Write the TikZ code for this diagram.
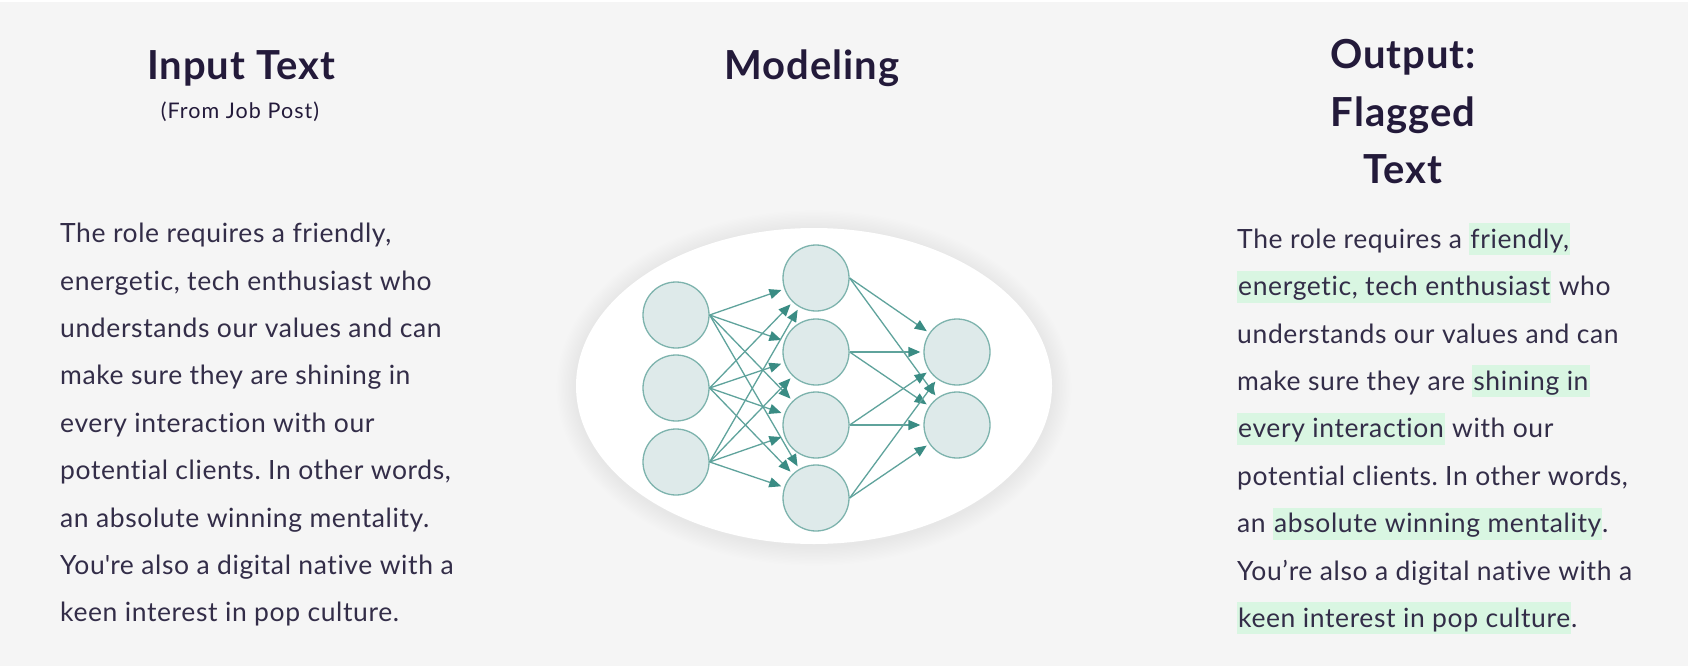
\documentclass[tikz,border=0pt]{standalone}
\usepackage{fontspec}
\setmainfont{Lato}
\newfontfamily\bodyfont[LetterSpace=2.3,Ligatures=NoCommon]{Lato}
\newfontfamily\headfont[LetterSpace=2.5,Ligatures=NoCommon]{Lato}
\newfontfamily\subfont[LetterSpace=5,Ligatures=NoCommon]{Lato}
\usetikzlibrary{arrows.meta}
\definecolor{bg}{HTML}{F5F5F5}
\definecolor{headc}{HTML}{231A3A}
\definecolor{bodyc}{HTML}{332D48}
\definecolor{hlgreen}{HTML}{D9F6E2}
\definecolor{nfill}{HTML}{DEEAEA}
\definecolor{nline}{HTML}{7DB3AD}
\definecolor{arrc}{HTML}{5FA39C}
\definecolor{arrhead}{HTML}{3A8C84}
\newcommand\hlt[1]{{\setlength{\fboxsep}{0pt}\colorbox{hlgreen}{\rule[-7pt]{0pt}{32pt}\hspace{1pt}#1\hspace{1pt}}}}
\tikzset{
  head/.style={font=\headfont\bfseries\fontsize{40}{48}\selectfont, text=headc, inner sep=0pt, anchor=base},
  subhead/.style={font=\subfont\fontsize{21.5}{25}\selectfont, text=headc, inner sep=0pt, anchor=base},
  para/.style={font=\bodyfont\fontsize{26.5}{47.4}\selectfont, text=bodyc, inner sep=0pt, align=left, anchor=north west},
  neuron/.style={circle, draw=nline, fill=nfill, line width=1.3pt, minimum size=66pt, inner sep=0pt},
  link/.style={draw=arrc, line width=1.3pt, -{Triangle[length=12pt,width=10pt,color=arrhead]}, shorten >=3pt},
}
\begin{document}
\frenchspacing
\begin{tikzpicture}[x=1pt,y=-1pt]
\useasboundingbox (0,0) rectangle (1688,666);
\fill[white] (0,0) rectangle (1688,666);
\fill[bg] (0,2) rectangle (1688,666);

% headings
\node[head] (inhead) at (241,80) {Input Text};
\node[subhead] (insub) at (240,118) {(From Job Post)};
\node[head] (modhead) at (812,80) {Modeling};
\node[head] (outh1) at (1403,69) {Output:};
\node[head] (outh2) at (1403,126) {Flagged};
\node[head] (outh3) at (1403,183) {Text};

% left paragraph
\node[para] (leftpara) at (60,223) {%
The role requires a friendly,\\
energetic, tech enthusiast who\\
understands our values and can\\
make sure they are shining in\\
every interaction with our\\
potential clients. In other words,\\
an absolute winning mentality.\\
You\textquotesingle re also a digital native with a\\
keen interest in pop culture.};

% right paragraph
\node[para] (rightpara) at (1237,223) {%
The role requires a \hlt{friendly,}\\
\hlt{energetic, tech enthusiast} who\\
understands our values and can\\
make sure they are \hlt{shining in}\\
\hlt{every interaction} with our\\
potential clients. In other words,\\
an \hlt{absolute winning mentality}.\\
You’re also a digital native with a\\
\hlt{keen interest in pop culture}.};

% ellipse with soft shadow
\foreach \i in {1,...,14}{
  \fill[black, opacity=0.005] (814,388) ellipse ({238+\i*1.4} and {158+\i*1.4});
}
\fill[white] (814,386) ellipse (238 and 158);

% neurons
\node[neuron] (a1) at (676,315) {};
\node[neuron] (a2) at (676,388) {};
\node[neuron] (a3) at (676,462) {};
\node[neuron] (b1) at (816,278) {};
\node[neuron] (b2) at (816,352) {};
\node[neuron] (b3) at (816,425) {};
\node[neuron] (b4) at (816,498) {};
\node[neuron] (c1) at (957,352) {};
\node[neuron] (c2) at (957,425) {};

\foreach \s in {a1,a2,a3}{
  \foreach \t in {b1,b2,b3,b4}{
    \draw[link] (\s.east) -- (\t);
  }
}
\foreach \s in {b1,b2,b3,b4}{
  \foreach \t in {c1,c2}{
    \draw[link] (\s.east) -- (\t);
  }
}
\end{tikzpicture}
\end{document}
